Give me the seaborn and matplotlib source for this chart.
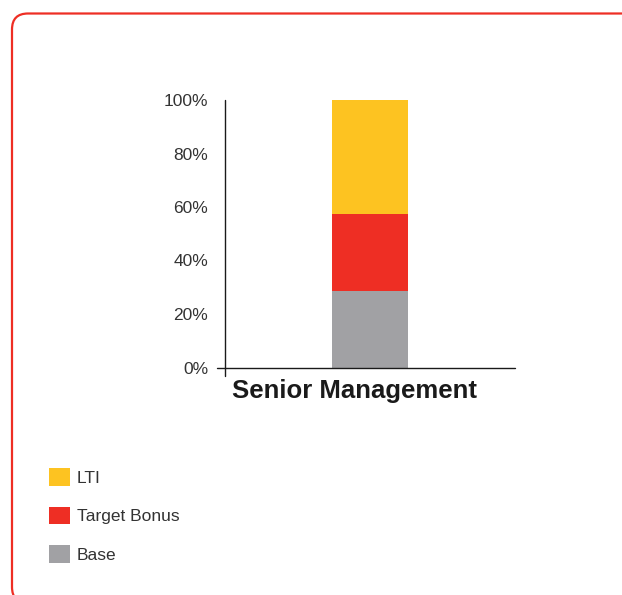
import numpy as np
import pandas as pd
import matplotlib
matplotlib.use("Agg")
import matplotlib.pyplot as plt
import matplotlib.transforms as mtransforms
from matplotlib.patches import FancyBboxPatch, Patch
import seaborn as sns

# Pay mix for one employee group, as share of total target pay (%)
categories = ["Senior Management"]
components = ["Base", "Target Bonus", "LTI"]
base = [28.6]
target_bonus = [28.6]
lti = [42.8]
tick_labels = ["0%", "20%", "40%", "60%", "80%", "100%"]
tick_values = [0, 20, 40, 60, 80, 100]

colors = {"Base": "#A1A1A4", "Target Bonus": "#EE2E24", "LTI": "#FDC321"}
text_color = "#333333"

sns.set_theme(style="white")
plt.rcParams["font.family"] = ["Liberation Sans", "DejaVu Sans"]

df = pd.DataFrame({
    "group": categories,
    "Base": base,
    "Target Bonus": target_bonus,
    "LTI": lti,
})
# cumulative tops so each layer can be drawn as a full bar from zero
df["Base_top"] = df["Base"]
df["Target Bonus_top"] = df["Base"] + df["Target Bonus"]
df["LTI_top"] = df["Target Bonus_top"] + df["LTI"]

fig = plt.figure(figsize=(6.22, 5.95), dpi=100)
ax = fig.add_axes([225 / 622, 1 - 367.5 / 595, 290 / 622, 267.5 / 595])

for comp in reversed(components):
    sns.barplot(data=df, x="group", y=f"{comp}_top", color=colors[comp],
                width=0.262, saturation=1, ax=ax, zorder=2, linewidth=0)

ax.set_xlim(-0.5, 0.5)
ax.set_ylim(0, 100)
ax.set_xlabel("")
ax.set_ylabel("")
ax.set_yticks(tick_values, labels=tick_labels)
ax.tick_params(axis="y", length=0, pad=12, labelsize=12.5, labelcolor=text_color)
ax.set_xticks([0], labels=categories)
ax.tick_params(axis="x", length=0, pad=8, labelsize=18.5, labelcolor="#1a1a1a")
for lab in ax.get_xticklabels():
    lab.set_fontweight("bold")
    lab.set_transform(lab.get_transform() +
                      mtransforms.ScaledTranslation(-15 / 100, 0, fig.dpi_scale_trans))

for s in ax.spines.values():
    s.set_visible(False)
# axis lines crossing slightly past the origin
ax.plot([0, 0], [-0.032, 1], transform=ax.transAxes, color="#1a1a1a",
        lw=1.0, clip_on=False, zorder=3)
ax.plot([-0.029, 1], [0, 0], transform=ax.transAxes, color="#1a1a1a",
        lw=1.0, clip_on=False, zorder=3)

# legend, top entry first
handles = [Patch(facecolor=colors[c], edgecolor="none", label=c)
           for c in reversed(components)]
fig.legend(handles=handles, loc="upper left",
           bbox_to_anchor=(42 / 622, 1 - 461 / 595),
           frameon=False, fontsize=12.5, labelcolor=text_color,
           handlelength=1.2, handleheight=1.2, handletextpad=0.4,
           labelspacing=1.2, borderaxespad=0)

# rounded red frame
frame = FancyBboxPatch((12, 595 - 603), 640, 603 - 13.5,
                       boxstyle="round,pad=0,rounding_size=16",
                       transform=mtransforms.IdentityTransform(),
                       facecolor="none", edgecolor="#EE2E24", linewidth=1.6)
fig.patches.append(frame)

fig.savefig("out.png", dpi=100)
